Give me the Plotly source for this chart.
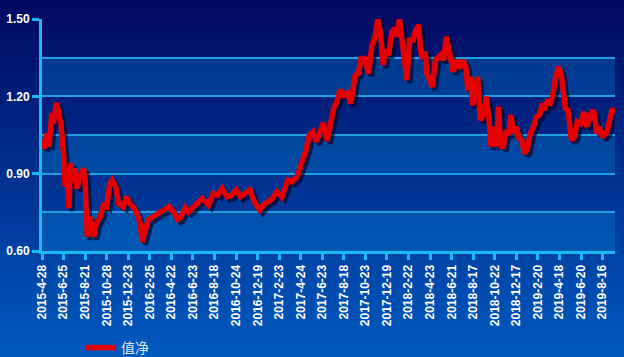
import plotly.graph_objects as go

# ---------------- data ----------------
series_name = "值净"
tick_dates = ["2015-4-28", "2015-6-25", "2015-8-21", "2015-10-28", "2015-12-23",
              "2016-2-25", "2016-4-22", "2016-6-23", "2016-8-18", "2016-10-24",
              "2016-12-19", "2017-2-23", "2017-4-24", "2017-6-23", "2017-8-18",
              "2017-10-23", "2017-12-19", "2018-2-22", "2018-4-23", "2018-6-21",
              "2018-8-17", "2018-10-22", "2018-12-17", "2019-2-20", "2019-4-18",
              "2019-6-20", "2019-8-16"]
tick_step = 40          # trading days between labelled dates
last_day = 1063         # last trading-day index shown

day_index = [0, 4, 9, 13, 18, 21, 27, 32, 35, 40,
             43, 46, 50, 53, 57, 61, 65, 70, 77, 80,
             84, 89, 92, 96, 101, 108, 114, 120, 126, 130,
             137, 142, 151, 157, 163, 171, 176, 182, 186, 191,
             197, 206, 216, 225, 236, 244, 252, 257, 266, 272,
             281, 297, 309, 318, 326, 334, 343, 352, 360, 368,
             377, 386, 394, 404, 414, 425, 436, 445, 456, 464,
             473, 479, 485, 490, 496, 503, 509, 516, 522, 529,
             536, 541, 547, 553, 560, 566, 573, 581, 587, 592,
             598, 606, 612, 618, 623, 628, 633, 637, 643, 649,
             655, 659, 663, 668, 672, 677, 682, 688, 693, 699,
             702, 705, 711, 714, 724, 730, 739, 745, 750, 756,
             763, 769, 775, 781, 786, 790, 795, 799, 804, 808,
             813, 819, 824, 829, 833, 838, 843, 847, 850, 855,
             861, 866, 870, 875, 880, 885, 890, 895, 900, 906,
             912, 917, 923, 928, 932, 937, 943, 947, 952, 958,
             963, 967, 971, 976, 982, 988, 993, 999, 1005, 1011,
             1017, 1023, 1030, 1036, 1040, 1048, 1053, 1058, 1063]

nav = [1.035, 0.998, 1.056, 1.005, 1.134, 1.095, 1.175, 1.121, 1.095, 0.979,
       0.849, 0.914, 0.766, 0.940, 0.875, 0.921, 0.843, 0.888, 0.921, 0.875,
       0.655, 0.733, 0.694, 0.655, 0.707, 0.733, 0.778, 0.772, 0.863, 0.875,
       0.849, 0.785, 0.772, 0.811, 0.785, 0.766, 0.746, 0.707, 0.636, 0.681,
       0.720, 0.733, 0.746, 0.752, 0.772, 0.752, 0.723, 0.730, 0.768, 0.752,
       0.772, 0.804, 0.778, 0.824, 0.817, 0.843, 0.811, 0.817, 0.837, 0.811,
       0.824, 0.837, 0.791, 0.759, 0.785, 0.798, 0.830, 0.811, 0.875, 0.869,
       0.888, 0.927, 0.953, 0.992, 1.050, 1.063, 1.024, 1.060, 1.098, 1.028,
       1.115, 1.153, 1.179, 1.225, 1.205, 1.212, 1.173, 1.283, 1.289, 1.347,
       1.347, 1.289, 1.399, 1.431, 1.503, 1.444, 1.322, 1.380, 1.360, 1.451,
       1.464, 1.431, 1.503, 1.425, 1.334, 1.263, 1.425, 1.412, 1.457, 1.477,
       1.386, 1.347, 1.373, 1.289, 1.237, 1.341, 1.360, 1.341, 1.431, 1.360,
       1.296, 1.341, 1.309, 1.341, 1.320, 1.225, 1.276, 1.166, 1.237, 1.276,
       1.108, 1.128, 1.199, 1.121, 1.005, 1.082, 1.005, 1.160, 1.031, 0.998,
       1.069, 1.050, 1.128, 1.057, 1.082, 1.037, 1.031, 0.979, 0.992, 1.057,
       1.082, 1.121, 1.128, 1.173, 1.147, 1.179, 1.173, 1.199, 1.263, 1.315,
       1.289, 1.237, 1.153, 1.147, 1.031, 1.043, 1.102, 1.095, 1.140, 1.082,
       1.128, 1.147, 1.057, 1.069, 1.043, 1.063, 1.108, 1.153, 1.134]

y_ticks = [0.60, 0.90, 1.20, 1.50]
y_grid_step = 0.15
band_starts = [0.60, 0.90, 1.20]   # lighter horizontal bands

# ---------------- layout constants ----------------
W, H = 624, 357
L, R, T, B = 42, 9, 19, 106
PW, PH = W - L - R, H - T - B
x_range = [0, last_day]
y_range = [0.60, 1.5005]
shadow_px = 3
dx = shadow_px * (x_range[1] - x_range[0]) / PW
dy = shadow_px * (y_range[1] - y_range[0]) / PH

AXIS = "#1cb8f4"
GRID = "#1d9fe2"

fig = go.Figure()

# shadow of the line (same data, axis range shifted by a few pixels)
fig.add_trace(go.Scatter(x=day_index, y=nav, mode="lines", xaxis="x2", yaxis="y2",
                         line=dict(color="rgba(0,0,30,0.6)", width=5.5),
                         showlegend=False, hoverinfo="skip"))
# main line
fig.add_trace(go.Scatter(x=day_index, y=nav, mode="lines", xaxis="x3", yaxis="y3",
                         name=series_name, line=dict(color="#e40000", width=5.5)))

# background vertical gradient (paper coordinates)
shapes = []
N = 72
top = (0, 8, 96)
bot = (0, 90, 192)
for i in range(N):
    p0 = H * i / N
    p1 = H * (i + 1) / N + 0.6
    t = (i + 0.5) / N
    c = tuple(round(top[k] + (bot[k] - top[k]) * t) for k in range(3))
    shapes.append(dict(type="rect", xref="paper", yref="paper", layer="below",
                       x0=-L / PW - 0.01, x1=1 + R / PW + 0.01,
                       y0=(H - B - p1) / PH, y1=(H - B - p0) / PH,
                       fillcolor="rgb(%d,%d,%d)" % c, line=dict(width=0)))
for b0 in band_starts:
    shapes.append(dict(type="rect", xref="paper", yref="y", layer="below",
                       x0=0, x1=1, y0=b0, y1=b0 + y_grid_step,
                       fillcolor="rgba(0,139,214,0.30)", line=dict(width=0)))

tickfont = dict(family="Liberation Sans, Arial", size=12, color="white", weight="bold")

fig.update_layout(
    width=W, height=H,
    margin=dict(l=L, r=R, t=T, b=B, pad=0, autoexpand=False),
    paper_bgcolor="#00308a",
    plot_bgcolor="rgba(0,0,0,0)",
    shapes=shapes,
    showlegend=True,
    legend=dict(xref="container", yref="container",
                x=81 / W, y=1 - 332 / H, xanchor="left", yanchor="top",
                orientation="h", bgcolor="rgba(0,0,0,0)", borderwidth=0,
                font=dict(family="Noto Sans CJK SC", size=14, color="#dce4f7")),
    xaxis=dict(range=x_range, tickmode="array", automargin=False,
               tickvals=[i * tick_step for i in range(len(tick_dates))],
               ticktext=tick_dates, tickangle=-90, tickfont=tickfont,
               ticks="outside", ticklen=6, tickwidth=2.5, tickcolor=AXIS,
               showline=True, linecolor=AXIS, linewidth=3,
               showgrid=False, zeroline=False, fixedrange=True),
    yaxis=dict(range=y_range, tickmode="array", tickvals=y_ticks, automargin=False,
               ticktext=["%.2f" % v for v in y_ticks], tickfont=tickfont,
               ticks="outside", ticklen=7, tickwidth=2.5, tickcolor=AXIS,
               showline=True, linecolor=AXIS, linewidth=3,
               showgrid=True, gridcolor=GRID, gridwidth=1.5,
               minor=dict(tickmode="linear", tick0=y_ticks[0], dtick=y_grid_step,
                          showgrid=True, gridcolor=GRID, gridwidth=1.5, ticks=""),
               zeroline=False, fixedrange=True),
    xaxis2=dict(overlaying="x", range=[x_range[0] - dx, x_range[1] - dx], visible=False),
    yaxis2=dict(overlaying="y", range=[y_range[0] + dy, y_range[1] + dy], visible=False),
    xaxis3=dict(overlaying="x", range=x_range, visible=False),
    yaxis3=dict(overlaying="y", range=y_range, visible=False),
)

fig.write_html("out.html")
